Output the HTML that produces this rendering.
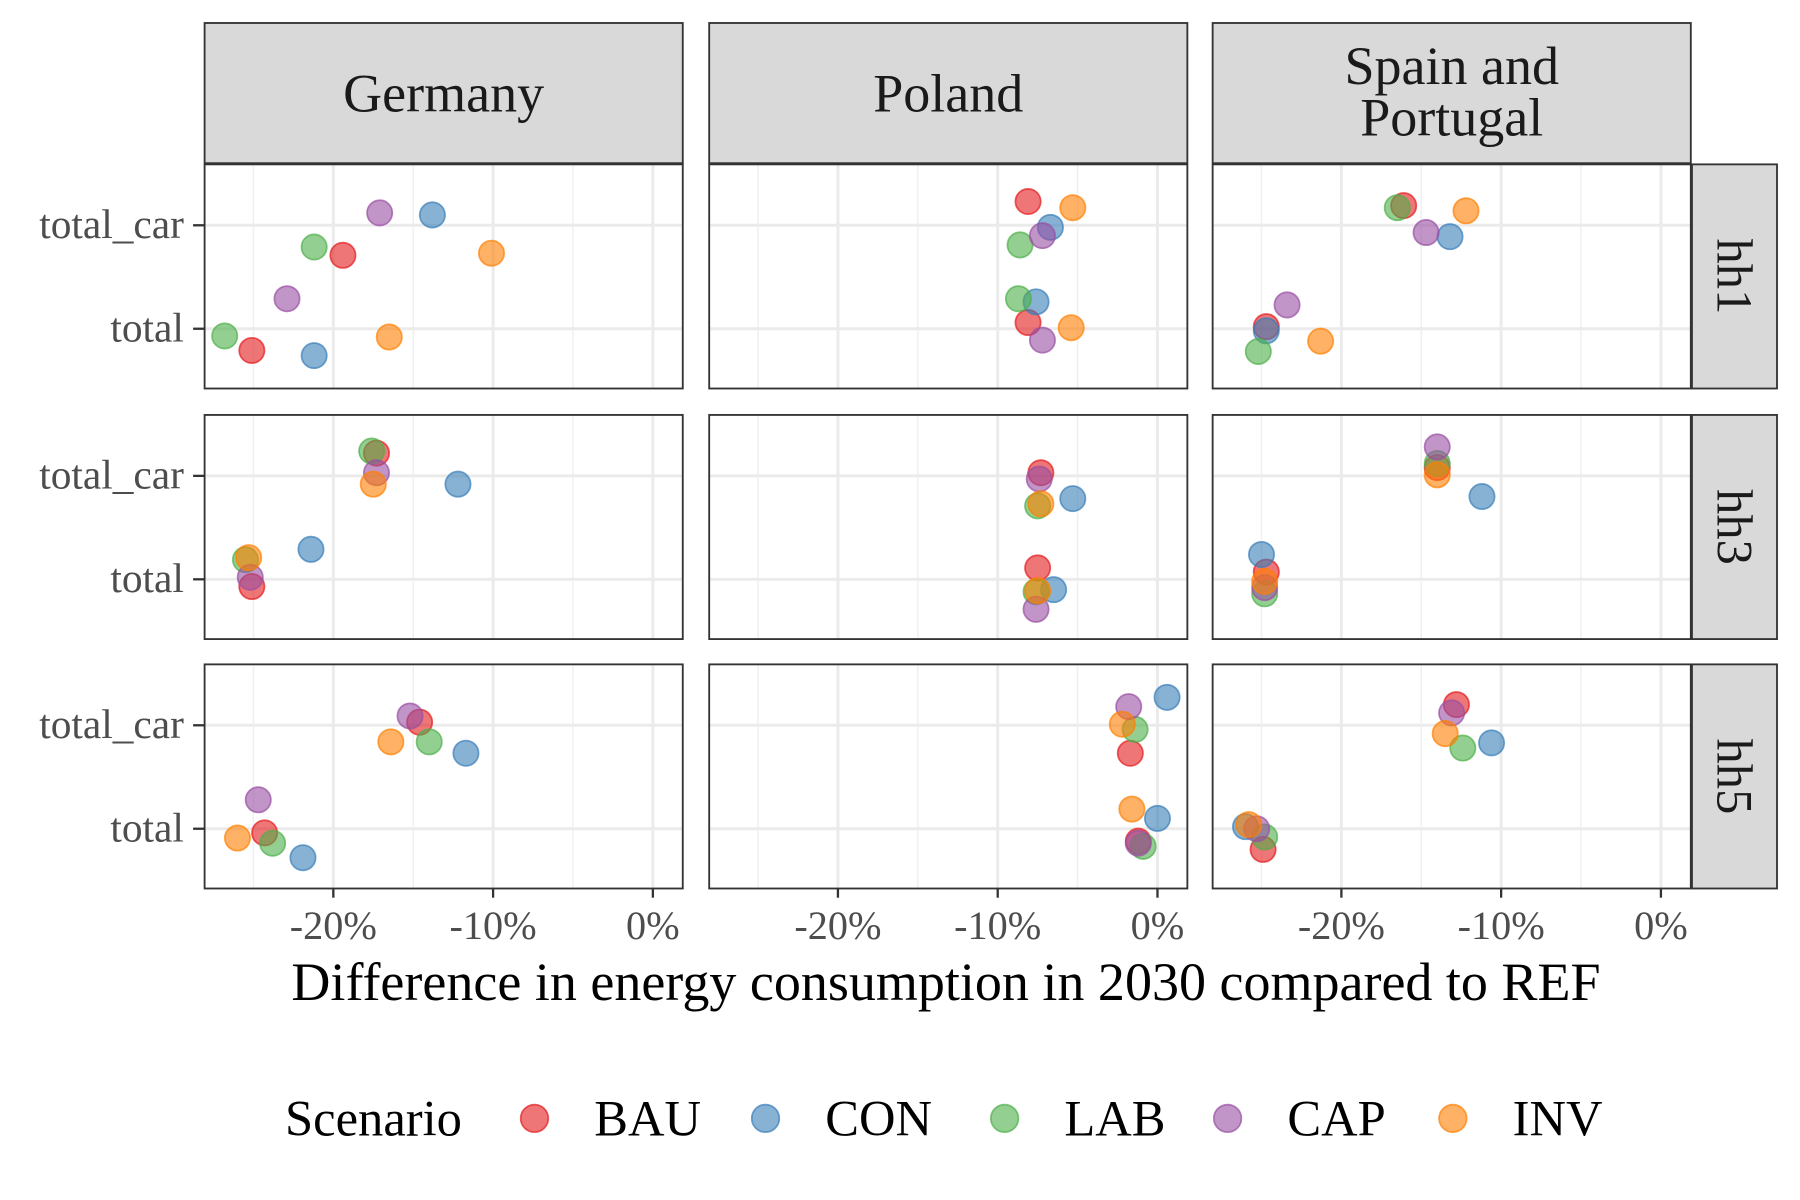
<!DOCTYPE html>
<html><head><meta charset="utf-8"><style>
html,body{margin:0;padding:0;background:#fff;}
svg{display:block;font-family:"Liberation Serif",serif;}
</style></head><body>
<svg id="chart" width="1800" height="1200" viewBox="0 0 1566 1044" preserveAspectRatio="none"></svg>
<script>
const countries = ["Germany","Poland","Spain and Portugal"];
const households = ["hh1","hh3","hh5"];
const categories = ["total_car","total"];
const scenarios = ["BAU","CON","LAB","CAP","INV"];
const colors = ["#E41A1C","#377EB8","#4DAF4A","#984EA3","#FF7F00"];
const xTicks = [-20,-10,0];
const xTickLabels = ["-20%","-10%","0%"];
const values = [
 [ [[-19.4,-13.8,-21.2,-17.1,-10.1],[-25.1,-21.2,-26.8,-22.9,-16.5]],
   [[-17.3,-12.2,-17.6,-17.3,-17.5],[-25.1,-21.4,-25.5,-25.2,-25.3]],
   [[-14.6,-11.7,-14.0,-15.2,-16.4],[-24.3,-21.9,-23.8,-24.7,-26.0]] ],
 [ [[-8.1,-6.7,-8.6,-7.2,-5.3],[-8.1,-7.6,-8.7,-7.2,-5.4]],
   [[-7.3,-5.3,-7.5,-7.4,-7.3],[-7.5,-6.5,-7.6,-7.6,-7.5]],
   [[-1.7,0.6,-1.4,-1.8,-2.2],[-1.2,0.0,-0.9,-1.2,-1.6]] ],
 [ [[-16.1,-13.2,-16.5,-14.7,-12.2],[-24.7,-24.7,-25.2,-23.4,-21.3]],
   [[-14.0,-11.2,-14.0,-14.0,-14.0],[-24.7,-25.0,-24.8,-24.8,-24.8]],
   [[-12.8,-10.6,-12.4,-13.1,-13.5],[-24.9,-26.0,-24.8,-25.3,-25.8]] ]
];
const jitter = [
 [ [[-0.29,0.10,-0.21,0.12,-0.27],[-0.21,-0.26,-0.07,0.29,-0.08]],
   [[0.22,-0.08,0.24,0.03,-0.08],[-0.07,0.29,0.19,0.02,0.21]],
   [[0.03,-0.27,-0.16,0.09,-0.16],[-0.04,-0.28,-0.14,0.28,-0.09]] ],
 [ [[0.23,-0.02,-0.19,-0.10,0.17],[0.06,0.26,0.29,-0.11,0.01]],
   [[0.03,-0.22,-0.29,-0.03,-0.27],[0.11,-0.10,-0.12,-0.29,-0.11]],
   [[-0.27,0.27,-0.04,0.18,0.01],[-0.12,0.10,-0.17,-0.14,0.19]] ],
 [ [[0.19,-0.11,0.17,-0.07,0.14],[0.02,-0.02,-0.22,0.23,-0.12]],
   [[0.08,-0.20,0.12,0.28,0.01],[0.07,0.24,-0.14,-0.08,-0.02]],
   [[0.20,-0.17,-0.22,0.12,-0.08],[-0.20,0.02,-0.08,0.00,0.04]] ]
];
const NS="http://www.w3.org/2000/svg";
const svg=document.getElementById('chart');
function mk(tag,attrs,parent){const e=document.createElementNS(NS,tag);for(const k in attrs)e.setAttribute(k,attrs[k]);(parent||svg).appendChild(e);return e;}
const colLeft=[178,617,1055], panelW=416;
const rowTop=[143,361,578], panelH=195;
const pxPerPct=13.9, zeroOff=390;
function xScale(c,v){return colLeft[c]+zeroOff+v*pxPerPct;}
function yScale(r,ci,j){return rowTop[r]+53+ci*90-j*90;}
for(let c=0;c<3;c++){
  const s=mk('rect',{x:colLeft[c],y:20,width:panelW,height:122,fill:'#d9d9d9',stroke:'#333','stroke-width':1.6});
  
  
  const lines=c===2?["Spain and","Portugal"]:[countries[c]];
  const t=mk('text',{x:colLeft[c]+panelW/2,y:lines.length>1?73:97,'text-anchor':'middle','font-size':47,fill:'#1a1a1a'});
  
  
  lines.forEach((l,i)=>{const ts=mk('tspan',{x:colLeft[c]+panelW/2,dy:i?45:0},t);ts.textContent=l;});
  for(let r=0;r<3;r++){
    const g=mk('g',{});
    
    
    mk('rect',{x:colLeft[c],y:rowTop[r],width:panelW,height:panelH,fill:'#fff'},g);
    [-25,-15,-5].forEach(v=>mk('line',{x1:xScale(c,v),x2:xScale(c,v),y1:rowTop[r],y2:rowTop[r]+panelH,stroke:'#f0f0f0','stroke-width':1.3},g));
    xTicks.forEach(v=>mk('line',{x1:xScale(c,v),x2:xScale(c,v),y1:rowTop[r],y2:rowTop[r]+panelH,stroke:'#ebebeb','stroke-width':2.6},g));
    categories.forEach((cat,ci)=>mk('line',{x1:colLeft[c],x2:colLeft[c]+panelW,y1:yScale(r,ci,0),y2:yScale(r,ci,0),stroke:'#ebebeb','stroke-width':2.6},g));
    for(let ci=0;ci<2;ci++)for(let s2=0;s2<5;s2++){
      const p=mk('circle',{cx:xScale(c,values[c][r][ci][s2]),cy:yScale(r,ci,jitter[c][r][ci][s2]),r:11,fill:colors[s2],'fill-opacity':0.6,stroke:colors[s2],'stroke-opacity':0.7,'stroke-width':1.5},g);
      
      
    }
    mk('rect',{x:colLeft[c],y:rowTop[r],width:panelW,height:panelH,fill:'none',stroke:'#333','stroke-width':1.6},g);
  }
  xTicks.forEach((v,i)=>{
    mk('line',{x1:xScale(c,v),x2:xScale(c,v),y1:773,y2:781,stroke:'#333','stroke-width':2});
    const tl=mk('text',{x:xScale(c,v),y:817,'text-anchor':'middle','font-size':35,fill:'#4d4d4d'});
    
    
    tl.textContent=xTickLabels[i];
  });
}
for(let r=0;r<3;r++){
  const s=mk('rect',{x:1472,y:rowTop[r],width:74,height:panelH,fill:'#d9d9d9',stroke:'#333','stroke-width':1.6});
  
  
  const cx=1509, cy=rowTop[r]+panelH/2;
  const t=mk('text',{x:cx,y:cy,'text-anchor':'middle','dominant-baseline':'central','font-size':44,fill:'#1a1a1a',transform:`rotate(90 ${cx} ${cy})`});
  
  
  t.textContent=households[r];
  categories.forEach((cat,ci)=>{
    const y=yScale(r,ci,0);
    mk('line',{x1:168,x2:178,y1:y,y2:y,stroke:'#333','stroke-width':2});
    const tl=mk('text',{x:160,y:y+11,'text-anchor':'end','font-size':36,fill:'#4d4d4d'});
    
    
    tl.textContent=cat;
  });
}
const xt=mk('text',{x:823,y:870,'text-anchor':'middle','font-size':47,fill:'#000'});


xt.textContent='Difference in energy consumption in 2030 compared to REF';
const lg=mk('g',{});


const lt=mk('text',{x:248,y:988,'font-size':44,fill:'#000'},lg);


lt.textContent='Scenario';
const lx=[465,666,874,1068,1264];
scenarios.forEach((s,i)=>{
  const e=mk('g',{},lg);
  
  
  mk('circle',{cx:lx[i],cy:973,r:12,fill:colors[i],'fill-opacity':0.6,stroke:colors[i],'stroke-opacity':0.7,'stroke-width':1.5},e);
  const t=mk('text',{x:lx[i]+52,y:988,'font-size':44,fill:'#000'},e);
  t.textContent=s;
});
</script>
</body></html>
